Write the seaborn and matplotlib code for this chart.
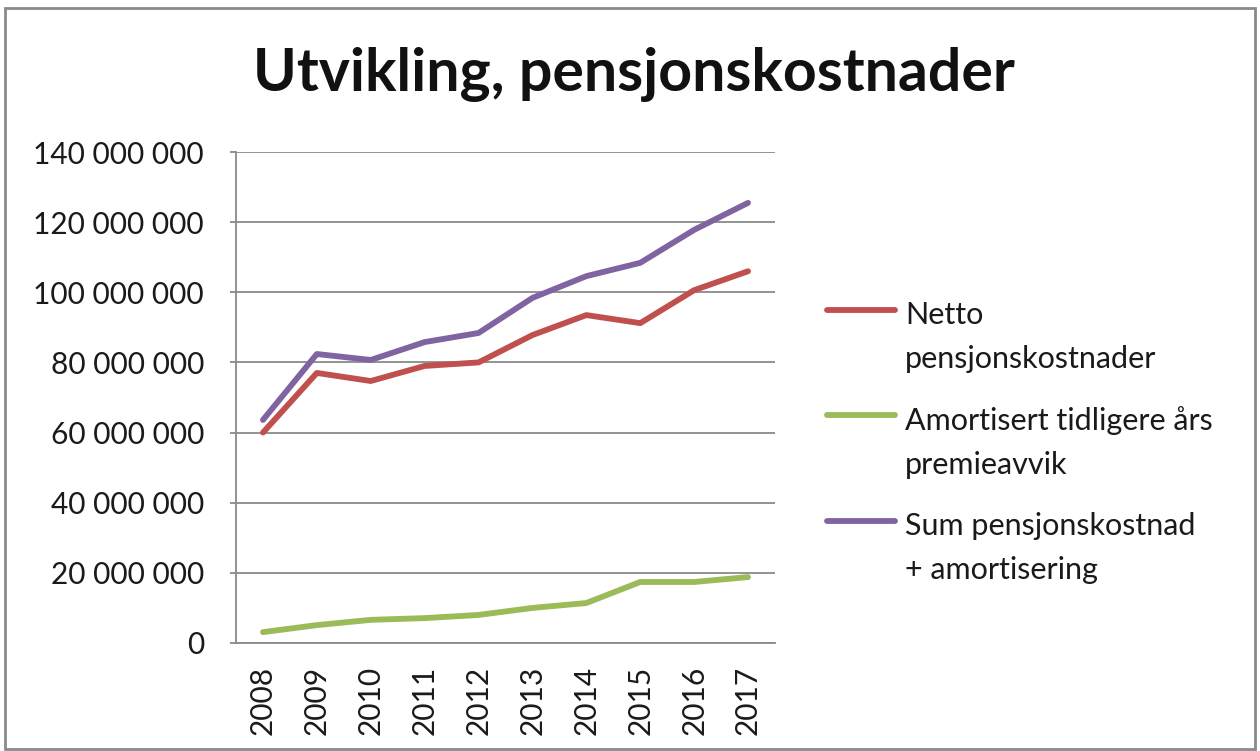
import pandas as pd
import seaborn as sns
import matplotlib.pyplot as plt
from matplotlib.ticker import FuncFormatter, MultipleLocator
from matplotlib.patches import Rectangle
from matplotlib.lines import Line2D

# data
years = [2008, 2009, 2010, 2011, 2012, 2013, 2014, 2015, 2016, 2017]
netto = [60.0, 77.0, 74.7, 79.0, 80.0, 87.8, 93.5, 91.2, 100.6, 106.0]  # mill
amortisert = [3.1, 5.1, 6.6, 7.1, 8.0, 10.0, 11.4, 17.4, 17.4, 18.8]
sum_kost = [63.6, 82.4, 80.7, 85.8, 88.4, 98.4, 104.6, 108.4, 117.8, 125.5]
series_names = ['Netto pensjonskostnader',
                'Amortisert tidligere års premieavvik',
                'Sum pensjonskostnad + amortisering']
legend_labels = ['Netto\npensjonskostnader',
                 'Amortisert tidligere års\npremieavvik',
                 'Sum pensjonskostnad\n+ amortisering']
colors = ['#C0504D', '#9BBB59', '#8064A2']

# long format for seaborn
rows = []
for name, vals in zip(series_names, [netto, amortisert, sum_kost]):
    for i, (yr, v) in enumerate(zip(years, vals)):
        rows.append({'pos': i, 'year': yr, 'serie': name, 'verdi': v * 1e6})
df = pd.DataFrame(rows)

sns.set_style('white')
plt.rcParams['font.family'] = ['Lato', 'DejaVu Sans']

W, H = 1260, 751
fig = plt.figure(figsize=(W / 100, H / 100), dpi=100)
ax = fig.add_axes([236 / W, 1 - 643 / H, (775 - 236) / W, (643 - 152) / H])

sns.lineplot(data=df, x='pos', y='verdi', hue='serie', hue_order=series_names,
             palette=colors, linewidth=4.2, ax=ax, legend=False)

ax.set_xlim(-0.5, 9.5)
ax.set_ylim(0, 140e6)
ax.yaxis.set_major_locator(MultipleLocator(20e6))
ax.yaxis.set_major_formatter(FuncFormatter(lambda v, p: f"{int(v):,}".replace(",", " ")))
ax.set_xticks(range(len(years)))
ax.set_xticklabels([str(y) for y in years], rotation=90)
ax.set_xlabel('')
ax.set_ylabel('')

ax.grid(axis='y', color='#8a8a8a', linewidth=1.3)
ax.set_axisbelow(True)
for s in ['top', 'right']:
    ax.spines[s].set_visible(False)
for s in ['left', 'bottom']:
    ax.spines[s].set_color('#8a8a8a')
    ax.spines[s].set_linewidth(1.3)
ax.tick_params(axis='y', left=True, length=4, color='#8a8a8a', width=1.3,
               labelsize=21.5, pad=19, labelcolor='#1a1a1a')
ax.tick_params(axis='x', bottom=False, labelsize=21.5, pad=13, labelcolor='#1a1a1a')

# legend, handle lined up with first text row like in Excel
leg_y = [310, 415, 521]
for c, lab, yy in zip(colors, legend_labels, leg_y):
    fig.add_artist(Line2D([827 / W, 895 / W], [1 - yy / H, 1 - yy / H],
                          color=c, linewidth=4.2, solid_capstyle='round'))
    fig.text(905 / W, 1 - (yy - 9) / H, lab, fontsize=22, color='#1a1a1a',
             va='top', ha='left', linespacing=1.7)

fig.text(0.503, 1 - 75 / H, 'Utvikling, pensjonskostnader', ha='center', va='center',
         fontsize=42.5, fontweight='bold', color='#111111')

# grey frame around the chart area
fig.patches.append(Rectangle((0.004, 0.002), 0.992, 0.988, transform=fig.transFigure,
                             fill=False, edgecolor='#8a8a8a', linewidth=2))

fig.savefig('out.png', dpi=100)
